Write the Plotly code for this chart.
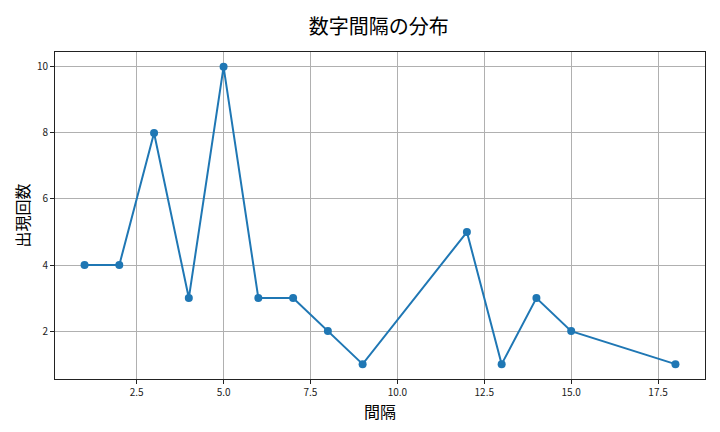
import plotly.graph_objects as go

# interval values and how often each occurred
intervals = [1, 2, 3, 4, 5, 6, 7, 8, 9, 12, 13, 14, 15, 18]
counts = [4, 4, 8, 3, 10, 3, 3, 2, 1, 5, 1, 3, 2, 1]

x_ticks = [2.5, 5.0, 7.5, 10.0, 12.5, 15.0, 17.5]
y_ticks = [2, 4, 6, 8, 10]

font = "Noto Sans CJK JP"

fig = go.Figure()
fig.add_trace(go.Scatter(
    x=intervals, y=counts, mode="lines+markers",
    line=dict(color="#1f77b4", width=2),
    marker=dict(color="#1f77b4", size=8),
))

axis_common = dict(
    showgrid=True, gridcolor="#b0b0b0", gridwidth=1,
    showline=True, linecolor="#222", linewidth=1, mirror=True,
    ticks="outside", ticklen=4, tickcolor="#222",
    tickfont=dict(family=font, size=10, color="#222"),
    zeroline=False,
)

# the page body adds an 8px offset, so margins are shifted to compensate
fig.update_layout(
    width=720, height=432,
    margin=dict(l=47, r=23, t=44, b=61),
    paper_bgcolor="white", plot_bgcolor="white",
    showlegend=False,
    title=dict(text="数字間隔の分布", x=0.515, xanchor="center", y=0.957, yanchor="middle",
               font=dict(family=font, size=20, color="black")),
    xaxis=dict(axis_common, range=[0.15, 18.85], tickvals=x_ticks,
               ticktext=[f"{v:.1f}" for v in x_ticks],
               title=dict(text="間隔", font=dict(family=font, size=16, color="black"), standoff=1)),
    yaxis=dict(axis_common, range=[0.55, 10.45], tickvals=y_ticks,
               title=dict(text="出現回数", font=dict(family=font, size=16, color="black"), standoff=3)),
)

fig.write_html("out.html")
